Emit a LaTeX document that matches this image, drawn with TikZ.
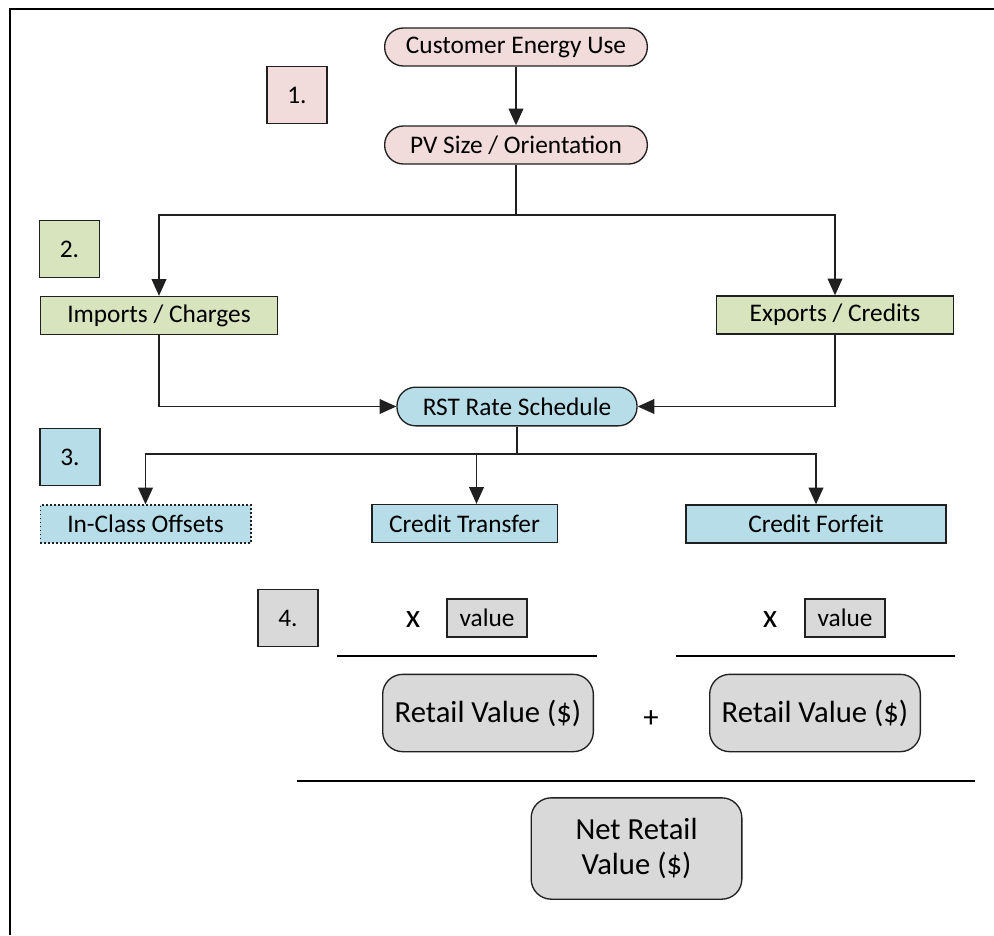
\documentclass[tikz,border=0pt]{standalone}
\usepackage{fontspec}
\setmainfont{Carlito}
\usepackage{xcolor}
\usetikzlibrary{arrows.meta,positioning}
\tikzset{>={Triangle[length=12.5pt,width=11pt]}}

\definecolor{pinkfill}{HTML}{F2DCDB}
\definecolor{greenfill}{HTML}{D7E4BD}
\definecolor{bluefill}{HTML}{B7DEE8}
\definecolor{grayfill}{HTML}{D9D9D9}
\definecolor{edge}{HTML}{202020}

\begin{document}
\begin{tikzpicture}[x=0.75pt,y=-0.75pt,
                    every node/.style={font=\fontsize{19}{22}\selectfont},
                    box/.style={draw=edge, line width=1pt, inner sep=0pt},
                    stepbox/.style={box, minimum width=45pt, minimum height=43pt},
                    pill/.style={box, rounded corners=14pt, minimum height=28.5pt},
                    flat/.style={box, minimum height=28.5pt},
                    valuebox/.style={box, fill=grayfill, minimum width=60pt, minimum height=28.5pt},
                    retail/.style={box, fill=grayfill, rounded corners=15pt, minimum width=158pt, minimum height=58pt,
                                   font=\fontsize{23}{26}\selectfont, align=center},
                    link/.style={line width=1.1pt, edge},
                    fracline/.style={line width=1.1pt, black},
                    sumline/.style={line width=2.2pt, black},
                   ]

\useasboundingbox (0,0) rectangle (994,935);

% frame
\draw[line width=2.2pt] (10,935) -- (10,9) -- (994,9);

% 1.
\node[stepbox, fill=pinkfill] (s1) at (297,95) {1.};
\node[pill, fill=pinkfill, minimum width=197pt] (use) at (516,47) {Customer Energy Use};
\node[pill, fill=pinkfill, minimum width=197pt] (pv) at (516,145) {PV Size / Orientation};

% 2.
\node[stepbox, fill=greenfill] (s2) at (69.5,249) {2.};
\node[flat, fill=greenfill, minimum width=178pt] (imp) at (159,315.5) {Imports / Charges};
\node[flat, fill=greenfill, minimum width=178pt] (exp) at (835,315) {Exports / Credits};
\node[pill, fill=bluefill, minimum width=180pt, minimum height=29pt] (rst) at (517,406.5) {RST Rate Schedule};

% 3.
\node[stepbox, fill=bluefill] (s3) at (70,457) {3.};
\node[flat, fill=bluefill, dotted, minimum width=158pt] (off) at (145.5,524) {In-Class Offsets};
\node[flat, fill=bluefill, minimum width=139pt] (tra) at (464.5,523.5) {Credit Transfer};
\node[flat, fill=bluefill, minimum width=195pt] (forf) at (816,524) {Credit Forfeit};

% 4.
\node[stepbox, fill=grayfill] (s4) at (288,618) {4.};
\node[font=\fontsize{25}{28}\selectfont] (x1) at (413,620) {x};
\node[valuebox] (v1) at (487,618) {value};
\node[font=\fontsize{25}{28}\selectfont] (x2) at (770,620) {x};
\node[valuebox] (v2) at (845,618) {value};
\draw[fracline] (337,656) -- (597,656);
\draw[fracline] (676,656) -- (955,656);
\node[retail] (r1) at (488,713) {Retail Value (\$)};
\node[font=\fontsize{23}{26}\selectfont] (plus) at (651,719) {+};
\node[retail] (r2) at (815,713) {Retail Value (\$)};
\draw[sumline] (297,781) -- (975,781);
\node[retail, minimum height=76pt] (net) at (636.5,848.5) {Net Retail\\Value (\$)};

% connectors
\coordinate (split) at (516,215);
\coordinate (fork) at (517,454);
\draw[link, ->] (use) -- (pv);
\draw[link] (pv) -- (split);
\draw[link, ->] (split) -| (imp);
\draw[link, ->] (split) -| (exp);
\draw[link, ->] (imp) |- (rst);
\draw[link, ->] (exp) |- (rst);
\draw[link] (rst) -- (fork);
\draw[link, ->] (fork) -| (off);
\draw[link, ->] (fork) -| ([xshift=9pt]tra.north);
\draw[link, ->] (fork) -| (forf);

\end{tikzpicture}
\end{document}
